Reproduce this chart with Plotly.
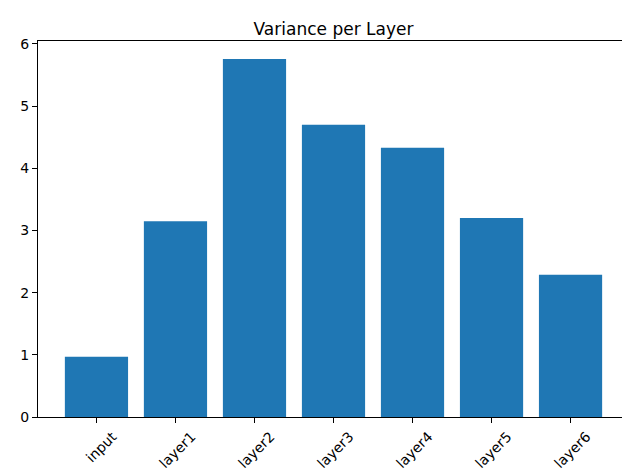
import plotly.graph_objects as go

categories = ["input", "layer1", "layer2", "layer3", "layer4", "layer5", "layer6"]
variances = [0.97, 3.15, 5.76, 4.70, 4.33, 3.20, 2.29]

fig = go.Figure(go.Bar(x=list(range(len(categories))), y=variances,
                       marker=dict(color="#1f77b4", line=dict(width=0)),
                       width=0.8))

font = "DejaVu Sans, sans-serif"
fig.update_layout(
    width=630, height=470,
    margin=dict(l=30, r=9, t=33, b=61, pad=0, autoexpand=False),
    plot_bgcolor="white", paper_bgcolor="white",
    font=dict(family=font, size=14, color="black"),
    title=dict(text="Variance per Layer", x=0.5, xref="paper", xanchor="center",
               y=1 - 21 / 470, yref="container", yanchor="middle",
               font=dict(size=17, family=font, color="black")),
    showlegend=False,
)
fig.update_xaxes(
    range=[-0.74, 6.74], tickmode="array", tickvals=list(range(len(categories))),
    ticktext=categories, tickangle=-45, ticks="outside", ticklen=5, tickwidth=1,
    tickcolor="black", showline=True, linecolor="black", linewidth=1, mirror=True,
    showgrid=False, zeroline=False, ticklabelshift=16, automargin=False,
)
fig.update_yaxes(
    range=[0, 6.048], tickvals=[0, 1, 2, 3, 4, 5, 6], ticks="outside", ticklen=5,
    tickwidth=1, tickcolor="black", showline=True, linecolor="black", linewidth=1,
    mirror=True, showgrid=False, zeroline=False, automargin=False,
)
fig.write_html("out.html")
